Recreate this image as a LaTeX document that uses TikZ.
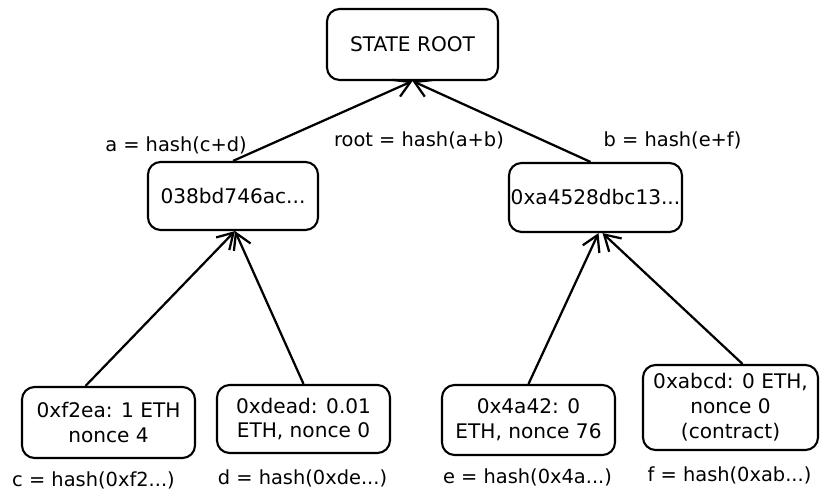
\documentclass[tikz,border=0pt]{standalone}
\usepackage{fontspec}
\setmainfont{DejaVu Sans}
\usetikzlibrary{arrows.meta}

\tikzset{
	hashbox/.style={draw,
		line width=1.5pt,
		rounded corners=9pt,
		align=center,
		inner sep=0pt,
		font=\fontsize{14.3}{17.7}\selectfont,
	},
	hashlbl/.style={font=\fontsize{13.8}{17}\selectfont},
	arr/.style={line width=1.6pt,
		-{Straight Barb[length=11pt,width=13pt,line width=1.6pt]},
	},
}

\begin{document}
\begin{tikzpicture}[x=0.025cm,y=-0.025cm]
\useasboundingbox (0,0) rectangle (827,503);

%State Root
\node [hashbox,
	minimum width=4.275cm,
	minimum height=1.775cm,
]  (root)at (412.5,44.5) {STATE ROOT};

%Hash Nodes
\node [hashbox,
	minimum width=4.25cm,
	minimum height=1.7cm,
]  (hasha)at (233,196) {038bd746ac...};
\node [hashbox,
	minimum width=4.325cm,
	minimum height=1.725cm,
]  (hashb)at (595.5,197.5) {0xa4528dbc13...};

\node [hashlbl]  (atext)at (176,145) {a = hash(c+d)};
\node [hashlbl]  (roottext)at (419,140) {root = hash(a+b)};
\node [hashlbl]  (btext)at (672.5,140) {b = hash(e+f)};

%Accounts
\node [hashbox,
	minimum width=4.325cm,
	minimum height=1.775cm,
]  (accc)at (108.5,422.5) {0xf2ea: 1 ETH\\nonce 4};
\node [hashbox,
	minimum width=4.325cm,
	minimum height=1.7cm,
]  (accd)at (303.5,419) {0xdead: 0.01\\ETH, nonce 0};
\node [hashbox,
	minimum width=4.325cm,
	minimum height=1.75cm,
]  (acce)at (528.5,420) {0x4a42: 0\\ETH, nonce 76};
\node [hashbox,
	minimum width=4.375cm,
	minimum height=2.125cm,
]  (accf)at (730.5,407.5) {0xabcd: 0 ETH,\\nonce 0\\(contract)};

\node [hashlbl]  (ctext)at (93.5,480) {c = hash(0xf2...)};
\node [hashlbl]  (dtext)at (302.5,478) {d = hash(0xde...)};
\node [hashlbl]  (etext)at (527.5,477) {e = hash(0x4a...)};
\node [hashlbl]  (ftext)at (729.5,475) {f = hash(0xab...)};

%Arrows
\draw[arr] (hasha.north)--(root.south);
\draw[arr] ([shift={(-5,0)}]hashb.north)--(root.south);

\draw[arr] ([shift={(-23,0)}]accc.north)--([shift={(2,0)}]hasha.south);
\draw[arr] (accd.north)--([shift={(2,0)}]hasha.south);

\draw[arr] (acce.north)--([shift={(3,0)}]hashb.south);
\draw[arr] ([shift={(12,0)}]accf.north)--([shift={(7,0)}]hashb.south);

\end{tikzpicture}
\end{document}
